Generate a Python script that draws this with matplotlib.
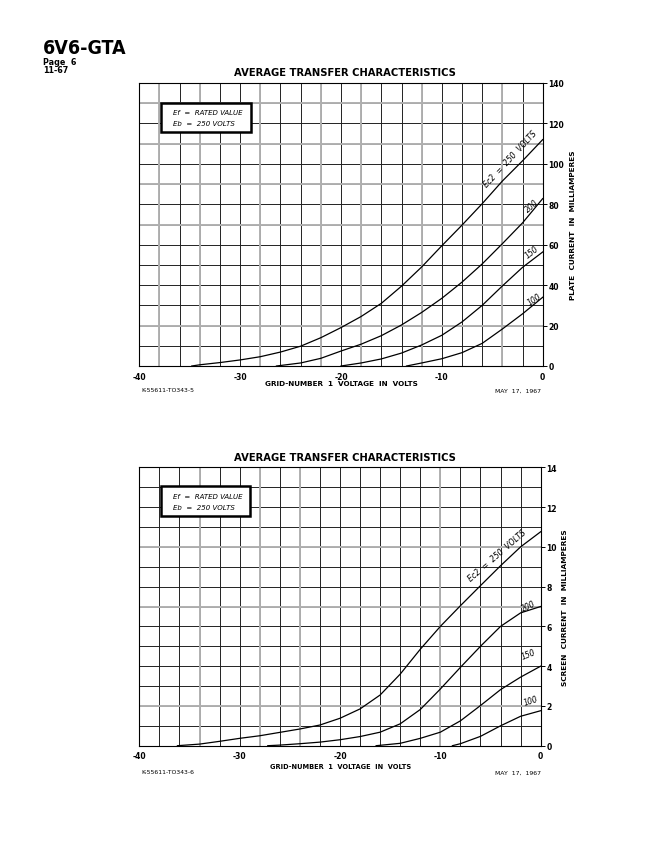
import matplotlib.pyplot as plt
from matplotlib.patches import Rectangle

# grid-number 1 voltage (V) and plate current (mA), top chart
p250_x = [-34.8, -34, -32, -30, -28, -26, -24, -22, -20, -18, -16, -14, -12, -10, -8, -6, -4, -2, 0]
p250_y = [0, 0.6, 1.7, 3.0, 4.6, 6.9, 9.8, 14, 19, 24.5, 31, 39.5, 49, 59.5, 69.7, 80.3, 91.5, 101.5, 112]
p200_x = [-26.4, -24, -22, -20, -18, -16, -14, -12, -10, -8, -6, -4, -2, 0]
p200_y = [0, 1.5, 3.8, 7.4, 10.8, 15, 20.3, 26.5, 33.5, 41.5, 50.5, 60.5, 70.8, 82.8]
p150_x = [-20, -18, -16, -14, -12, -10, -8, -6, -4, -2, 0]
p150_y = [0, 1.5, 3.5, 6.4, 10.4, 15.2, 21.8, 30, 39.6, 48.8, 56.4]
p100_x = [-13.5, -12, -10, -8, -6, -4, -2, 0]
p100_y = [0, 1.5, 3.6, 6.6, 11.2, 18.3, 25.8, 34]

# screen current (mA), bottom chart
s250_x = [-36.2, -34, -32, -30, -28, -26, -24, -22, -20, -18, -16, -14, -12, -10, -8, -6, -4, -2, 0]
s250_y = [0, 0.08, 0.22, 0.37, 0.5, 0.67, 0.84, 1.04, 1.38, 1.85, 2.55, 3.6, 4.85, 6.0, 7.04, 8.05, 9.05, 10.0, 10.76]
s200_x = [-27.2, -26, -24, -22, -20, -18, -16, -14, -12, -10, -8, -6, -4, -2, 0]
s200_y = [0, 0.03, 0.1, 0.18, 0.3, 0.46, 0.68, 1.1, 1.82, 2.85, 3.94, 5.0, 6.0, 6.68, 7.0]
s150_x = [-16.4, -14, -12, -10, -8, -6, -4, -2, 0]
s150_y = [0, 0.12, 0.37, 0.68, 1.25, 2.02, 2.82, 3.45, 4.0]
s100_x = [-8.8, -8, -6, -4, -2, 0]
s100_y = [0, 0.1, 0.47, 1.0, 1.48, 1.76]

x_ticks = [-40, -30, -20, -10, 0]
x_labels = ["-40", "-30", "-20", "-10", "0"]

# chart-paper lines that printed grey/heavier in the scan
top_grey_v = [-38, -34, -28, -22, -18, -12, -4]
top_grey_h = [130, 110, 90, 70, 20]
bot_grey_v = [-34, -28, -24, -10]
bot_grey_h = [10, 7, 2]

W, H = 654, 854
fig = plt.figure(figsize=(W / 100, H / 100), dpi=100)


def fx(px):
    return px / W


def fy(py):
    return 1 - py / H


def panel(rect, curves, ymax, ystep, ylabelstep, ylabel, ylab_x, labels, box_rect, code,
          title_y, foot_y, xlab_y, xlab_size, grey_v, grey_h):
    ax = fig.add_axes(rect)
    ax.set_xlim(-40, 0)
    ax.set_ylim(0, ymax)
    for v in range(-40, 1, 2):
        ax.axvline(v, color="#222222", lw=0.7, zorder=1)
    y = 0
    while y <= ymax + 1e-9:
        ax.axhline(y, color="#222222", lw=0.7, zorder=1)
        y += ystep
    for v in grey_v:
        ax.axvline(v, color="#b0b0b0", lw=1.4, zorder=1.5)
    for h in grey_h:
        ax.axhline(h, color="#b0b0b0", lw=1.4, zorder=1.5)
    for xs, ys in curves:
        ax.plot(xs, ys, color="black", lw=0.9, zorder=3)
    for s in ax.spines.values():
        s.set_linewidth(0.8)
    ax.set_xticks(x_ticks)
    ax.set_xticklabels(x_labels)
    yt = list(range(0, ymax + 1, ylabelstep))
    ax.set_yticks(yt)
    ax.set_yticklabels([str(v) for v in yt])
    ax.yaxis.tick_right()
    ax.tick_params(axis="x", length=0, pad=4, labelsize=5.5)
    ax.tick_params(axis="y", length=3, width=0.7, direction="out", pad=1, labelsize=5.5)
    for t in ax.get_xticklabels() + ax.get_yticklabels():
        t.set_fontweight("bold")
    ax.yaxis.set_label_position("right")
    ax.set_ylabel(ylabel, fontsize=5.3, fontweight="bold")
    ax.yaxis.set_label_coords(ylab_x, 0.5)
    for txt, x, yv, rot in labels:
        ax.text(x, yv, txt, fontsize=5.5, fontstyle="italic", rotation=rot,
                ha="center", va="center", zorder=4)
    bx = Rectangle((box_rect[0], box_rect[1]), box_rect[2], box_rect[3], transform=ax.transAxes,
                   facecolor="white", edgecolor="black", lw=1.8, zorder=5)
    ax.add_patch(bx)
    ax.text(box_rect[0] + 0.03, box_rect[1] + box_rect[3] * 0.68, "Ef  =  RATED VALUE",
            transform=ax.transAxes, fontsize=5, fontstyle="italic", va="center", zorder=6)
    ax.text(box_rect[0] + 0.03, box_rect[1] + box_rect[3] * 0.32, "Eb  =  250 VOLTS",
            transform=ax.transAxes, fontsize=5, fontstyle="italic", va="center", zorder=6)
    fig.text(fx(345), fy(title_y), "AVERAGE TRANSFER CHARACTERISTICS", fontsize=7.2,
             fontweight="bold", ha="center", va="center")
    fig.text(fx(341), fy(xlab_y), "GRID-NUMBER  1  VOLTAGE  IN  VOLTS",
             fontsize=xlab_size, fontweight="bold", ha="center", va="center")
    fig.text(fx(141), fy(foot_y), code, fontsize=4.4, ha="left", va="center")
    fig.text(fx(541), fy(foot_y), "MAY  17,  1967", fontsize=4.4, ha="right", va="center")
    return ax


panel([fx(139.3), fy(367), (542.7 - 139.3) / W, (367 - 84) / H],
      [(p250_x, p250_y), (p200_x, p200_y), (p150_x, p150_y), (p100_x, p100_y)],
      140, 10, 20, "PLATE  CURRENT  IN  MILLIAMPERES", 1.068,
      [("Ec2  =  250  VOLTS", -3.2, 102.8, 47), ("200", -1.1, 79.5, 40),
       ("150", -1.1, 56.5, 38), ("100", -0.8, 33, 33)],
      (0.053, 0.827, 0.224, 0.102), "K-55611-TO343-5", 73, 391, 384, 5.2,
      top_grey_v, top_grey_h)

panel([fx(139.3), fy(746.7), (540.7 - 139.3) / W, (746.7 - 468.3) / H],
      [(s250_x, s250_y), (s200_x, s200_y), (s150_x, s150_y), (s100_x, s100_y)],
      14, 1, 2, "SCREEN  CURRENT  IN  MILLIAMPERES", 1.053,
      [("Ec2  =  250  VOLTS", -4.35, 9.6, 41), ("200", -1.2, 7.05, 25),
       ("150", -1.2, 4.6, 22), ("100", -1.0, 2.3, 18)],
      (0.053, 0.824, 0.223, 0.108), "K-55611-TO343-6", 458, 773, 767, 4.8,
      bot_grey_v, bot_grey_h)

fig.text(fx(43), fy(49), "6V6-GTA", fontsize=14, fontweight="bold", fontstretch="condensed",
         ha="left", va="center")
fig.text(fx(43), fy(62.5), "Page  6", fontsize=5.8, fontweight="bold", ha="left", va="center")
fig.text(fx(43), fy(70.5), "11-67", fontsize=5.8, fontweight="bold", ha="left", va="center")

fig.savefig("out.png", dpi=100)
